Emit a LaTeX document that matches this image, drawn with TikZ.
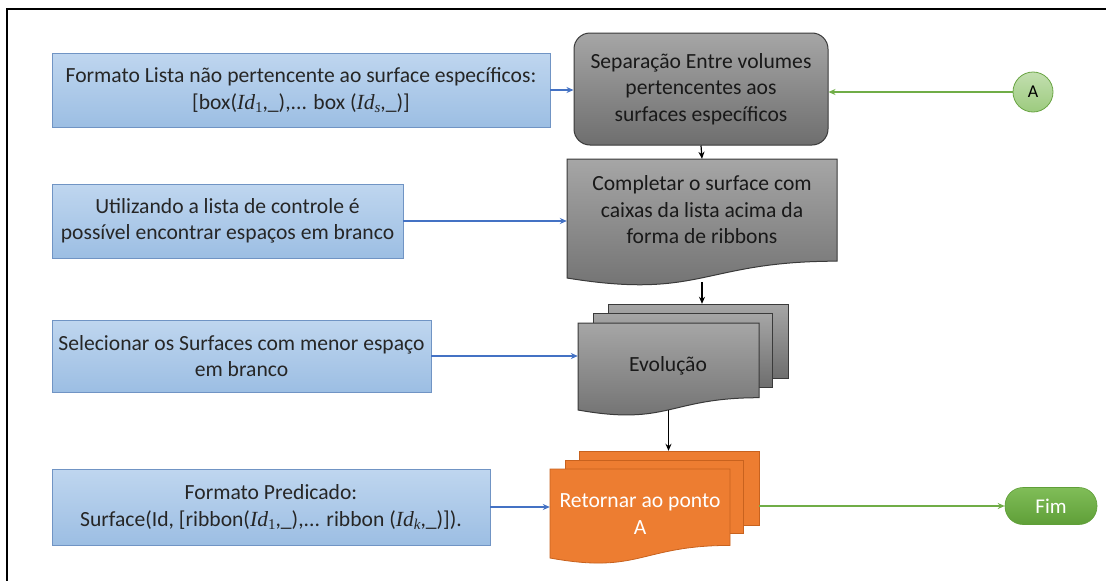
\documentclass[tikz,border=0pt]{standalone}
\usepackage{fontspec}
\setmainfont{Carlito}
\newfontfamily\idfont{Liberation Serif}
\usetikzlibrary{arrows.meta}
\definecolor{bluefillT}{HTML}{BFD6EF}
\definecolor{bluefillB}{HTML}{9CBEE3}
\definecolor{blueborder}{HTML}{7094C4}
\definecolor{arrowblue}{HTML}{4472C4}
\definecolor{grayT}{HTML}{A6A6A6}
\definecolor{grayB}{HTML}{6E6E6E}
\definecolor{grayborder}{HTML}{3A3A3A}
\definecolor{orangefill}{HTML}{ED7D31}
\definecolor{orangeborder}{HTML}{C8621E}
\definecolor{greenline}{HTML}{70AD47}
\definecolor{greenT}{HTML}{C3DFB0}
\definecolor{greenB}{HTML}{9CCB7E}
\definecolor{greenborder}{HTML}{6AA544}
\definecolor{fimT}{HTML}{80BD58}
\definecolor{fimB}{HTML}{5F9F38}
\newcommand\mId[1]{{\idfont\itshape Id}\raisebox{-0.3ex}{\idfont\fontsize{15}{15}\selectfont #1}}
\newcommand\docshape[5]{% style, x1, y1(top), x2, y2(bottom-left)
  \path[#1] (#2,#3) -- (#4,#3) -- (#4,{#3+0.802*(#5-#3)/0.934})
    .. controls ({(#2+#4)/2},{#3+0.802*(#5-#3)/0.934}) and ({(#2+#4)/2},{#3+1.107*(#5-#3)/0.934}) .. (#2,#5) -- cycle;}
\begin{document}
\begin{tikzpicture}[x=1pt,y=-1pt,
  txt/.style={font=\fontsize{21.6}{26.5}\selectfont, align=center},
  bluebox/.style={txt, draw=blueborder, line width=0.8pt, top color=bluefillT, bottom color=bluefillB, text=black!85, inner sep=0pt},
  graybox/.style={txt, draw=grayborder, line width=1pt, top color=grayT, bottom color=grayB, text=black!90, inner sep=0pt},
  grayshape/.style={draw=grayborder, line width=1pt, top color=grayT, bottom color=grayB},
  orangeshape/.style={draw=orangeborder, line width=0.8pt, fill=orangefill},
  hidden/.style={inner sep=0pt, align=center},
  bluearrow/.style={draw=arrowblue, line width=1.2pt, -{Stealth[length=7pt,width=6pt]}},
  blackarrow/.style={draw=black, line width=1.2pt, -{Stealth[length=7pt,width=6pt]}},
  greenarrow/.style={draw=greenline, line width=1.3pt, -{Stealth[length=7pt,width=6pt]}}
]
\useasboundingbox (0,0) rectangle (1106,581);
\fill[white] (0,0) rectangle (1106,581);
% frame
\draw[line width=1.8pt] (7,581) -- (7,9) -- (1106,9);

% blue boxes
\node[bluebox, minimum width=498pt, minimum height=74pt] (b1) at (301,90)
  {Formato Lista não pertencente ao surface específicos:\\ {[}box(\mId{1},\_),... box (\mId{\itshape s},\_)]};
\node[bluebox, minimum width=351pt, minimum height=74pt] (b2) at (227.5,221)
  {Utilizando a lista de controle é\\ possível encontrar espaços em branco};
\node[bluebox, minimum width=379pt, minimum height=72pt] (b3) at (241.5,356)
  {Selecionar os Surfaces com menor espaço\\ em branco};
\node[bluebox, minimum width=438pt, minimum height=76pt] (b4) at (271,507)
  {Formato Predicado:\\ Surface(Id, [ribbon(\mId{1},\_),... ribbon (\mId{\itshape k},\_)]).};

% gray rounded box
\node[graybox, rounded corners=16pt, minimum width=254pt, minimum height=112pt] (g1) at (701,89)
  {Separação Entre volumes\\ pertencentes aos\\ surfaces específicos};

% document shape
\docshape{grayshape}{567}{159}{837}{278}
\node[hidden, minimum width=270pt, minimum height=119pt] (doc) at (702,218.5) {};
\node[txt, text=black!90] (doctext) at (702,210) {Completar o surface com\\ caixas da lista acima da\\ forma de ribbons};

% Evolucao multidocument
\path[grayshape] (608,304) rectangle (788,378);
\node[hidden, minimum width=180pt, minimum height=74pt] (evoback) at (698,341) {};
\path[grayshape] (593,313) rectangle (772,387);
\docshape{grayshape}{578}{323}{759}{410}
\node[hidden, minimum width=181pt, minimum height=87pt] (evo) at (668.5,366.5) {};
\node[txt, text=black!90] (evotext) at (668,366) {Evolução};

% Retornar multidocument
\path[orangeshape] (579,451) rectangle (759,525);
\node[hidden, minimum width=180pt, minimum height=74pt] (retback) at (669,488) {};
\path[orangeshape] (565,460) rectangle (743,533);
\docshape{orangeshape}{550}{469}{730}{558}
\node[hidden, minimum width=180pt, minimum height=89pt] (ret) at (640,513.5) {};
\node[txt, text=white] (rettext) at (640,514) {Retornar ao ponto\\ A};

% A circle
\node[circle, draw=greenborder, line width=0.8pt, top color=greenT, bottom color=greenB, minimum size=40pt, inner sep=0pt, font=\fontsize{18}{20}\selectfont] (A) at (1033,92) {A};

% Fim
\node[rounded corners=18pt, draw=fimB, line width=0.6pt, top color=fimT, bottom color=fimB, minimum width=92pt, minimum height=37pt, inner sep=0pt, text=white, font=\fontsize{21}{22}\selectfont] (fim) at (1051,506) {Fim};

% connectors
\draw[bluearrow] (b1.east) -- (b1.east -| g1.west);
\draw[bluearrow] (b2.east) -- (b2.east -| doc.west);
\draw[bluearrow] (b3.east) -- (b3.east -| evo.west);
\draw[bluearrow] (b4.east) -- (b4.east -| ret.west);
\draw[greenarrow] (A.west) -- (A.west -| g1.east);
\draw[blackarrow] (g1.south) -- (doc.north);
\draw[blackarrow] ([yshift=-4pt]doc.south) -- (doc.south |- evoback.north);
\draw[blackarrow] (evo.south) -- (evo.south |- retback.north);
\draw[greenarrow] (fim.west -| retback.east) -- (fim.west);
\end{tikzpicture}
\end{document}
